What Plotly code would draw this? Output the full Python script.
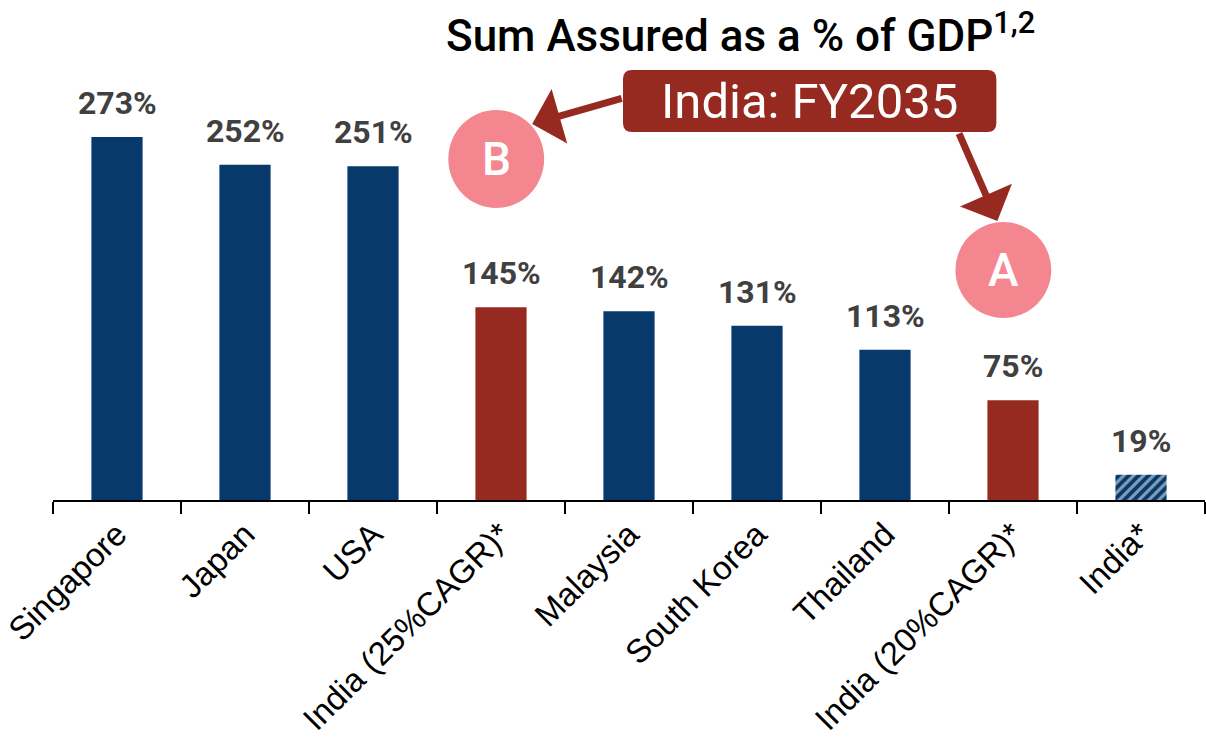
import plotly.graph_objects as go

# Sum assured as a share of GDP, by market
countries = ["Singapore", "Japan", "USA", "India (25%CAGR)*", "Malaysia",
             "South Korea", "Thailand", "India (20%CAGR)*", "India*"]
sum_assured_pct = [273, 252, 251, 145, 142, 131, 113, 75, 19]

NAVY = "#073A6B"
RED = "#972A20"
PINK = "#F4868F"

bar_colors = [NAVY, NAVY, NAVY, RED, NAVY, NAVY, NAVY, RED, NAVY]
bar_patterns = ["", "", "", "", "", "", "", "", "/"]

W, H = 1206, 738
M_L, M_R, M_T, M_B = 51, 1, 101, 238


def px_x(x):
    """Pixel column -> paper x."""
    return (x - M_L) / (W - M_L - M_R)


def px_y(y):
    """Pixel row -> paper y."""
    return (H - M_B - y) / (H - M_T - M_B)


fig = go.Figure()
fig.add_trace(go.Bar(
    x=countries,
    y=sum_assured_pct,
    marker=dict(
        color=bar_colors,
        line=dict(width=0),
        pattern=dict(shape=bar_patterns, fgcolor="white", bgcolor=NAVY,
                     size=7, solidity=0.45),
    ),
    width=0.4,
    hoverinfo="skip",
))

annotations = []
# value labels above each bar
for c, v in zip(countries, sum_assured_pct):
    annotations.append(dict(
        x=c, y=v, xref="x", yref="y", text=f"{v}%", showarrow=False,
        yanchor="bottom", yshift=13,
        font=dict(family="Roboto", size=32, color="#404040", weight="bold"),
    ))

# callout box text
annotations.append(dict(
    x=px_x(809), y=px_y(101), xref="paper", yref="paper",
    text="India: FY2035", showarrow=False,
    font=dict(family="Roboto", size=49, color="white"),
    xanchor="center", yanchor="middle",
))

# circle letters
for letter, cx, cy in [("B", 495, 159), ("A", 1003, 270)]:
    annotations.append(dict(
        x=px_x(cx), y=px_y(cy), xref="paper", yref="paper",
        text=letter, showarrow=False,
        font=dict(family="Roboto", size=46, color="white", weight=500),
        xanchor="center", yanchor="middle",
    ))

# arrows from the callout box to the circles
for (hx, hy), (tx, ty) in [((531, 124), (622, 98)), ((997, 221), (958, 132))]:
    annotations.append(dict(
        x=px_x(hx), y=px_y(hy), xref="paper", yref="paper",
        ax=tx - hx, ay=ty - hy, axref="pixel", ayref="pixel",
        text="", showarrow=True, arrowhead=1, arrowsize=1.35,
        arrowwidth=7, arrowcolor=RED, standoff=0,
    ))

# title
annotations.append(dict(
    x=px_x(740), y=px_y(33), xref="paper", yref="paper",
    text="Sum Assured as a % of GDP<sup>1,2</sup>", showarrow=False,
    font=dict(family="Roboto", size=44, color="black", weight=500),
    xanchor="center", yanchor="middle",
))


def rounded_rect(x0, y0, x1, y1, r):
    X0, X1 = px_x(x0), px_x(x1)
    Y0, Y1 = px_y(y0), px_y(y1)
    rx = r / (W - M_L - M_R)
    ry = r / (H - M_T - M_B)
    return (f"M{X0 + rx},{Y0} L{X1 - rx},{Y0} Q{X1},{Y0} {X1},{Y0 - ry} "
            f"L{X1},{Y1 + ry} Q{X1},{Y1} {X1 - rx},{Y1} L{X0 + rx},{Y1} "
            f"Q{X0},{Y1} {X0},{Y1 + ry} L{X0},{Y0 - ry} Q{X0},{Y0} {X0 + rx},{Y0} Z")


shapes = [
    dict(type="path", xref="paper", yref="paper",
         path=rounded_rect(622, 70, 996, 132, 9),
         fillcolor=RED, line=dict(width=0), layer="below"),
    dict(type="circle", xref="paper", yref="paper",
         x0=px_x(447), x1=px_x(543), y0=px_y(208), y1=px_y(110),
         fillcolor=PINK, line=dict(width=0), layer="below"),
    dict(type="circle", xref="paper", yref="paper",
         x0=px_x(955), x1=px_x(1051), y0=px_y(318), y1=px_y(222),
         fillcolor=PINK, line=dict(width=0), layer="below"),
]

fig.update_layout(
    width=W, height=H,
    margin=dict(l=M_L, r=M_R, t=M_T, b=M_B),
    paper_bgcolor="white", plot_bgcolor="white",
    showlegend=False,
    annotations=annotations,
    shapes=shapes,
    xaxis=dict(
        type="category",
        showline=True, linecolor="black", linewidth=1.5,
        ticks="outside", ticklen=12, tickwidth=1.5, tickcolor="black",
        tickson="boundaries",
        tickangle=-45,
        tickfont=dict(family="Liberation Sans", size=33, color="black"),
        showgrid=False, zeroline=False,
    ),
    yaxis=dict(visible=False, range=[0, 300], showgrid=False, zeroline=False),
)

fig.write_html("out.html")
